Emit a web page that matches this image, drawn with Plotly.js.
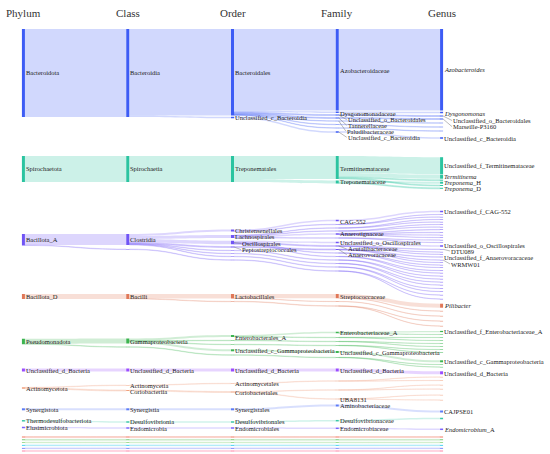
<!DOCTYPE html>
<html><head><meta charset="utf-8">
<script src="https://cdn.plot.ly/plotly-3.0.1.min.js"></script>
<style>body{margin:0;background:#fff}</style>
</head><body><div id="chart" style="width:550px;height:454px"></div>
<script>
// ---- DATA: one entry per genus with its lineage and abundance ----
const levels = ['Phylum','Class','Order','Family','Genus'];
const phylum = [
 'Bacteroidota','Bacteroidota','Bacteroidota','Bacteroidota','Bacteroidota','Bacteroidota','Bacteroidota','Bacteroidota',
 'Spirochaetota','Spirochaetota','Spirochaetota','Spirochaetota','Spirochaetota','Spirochaetota',
 'Bacillota_A','Bacillota_A','Bacillota_A','Bacillota_A','Bacillota_A','Bacillota_A','Bacillota_A','Bacillota_A',
 'Bacillota_A','Bacillota_A','Bacillota_A','Bacillota_A','Bacillota_A','Bacillota_A','Bacillota_A','Bacillota_A',
 'Bacillota_A','Bacillota_A','Bacillota_A','Bacillota_A','Bacillota_A','Bacillota_A','Bacillota_A','Bacillota_A',
 'Bacillota_A','Bacillota_A','Bacillota_A','Bacillota_A','Bacillota_A','Bacillota_A','Bacillota_A','Bacillota_A',
 'Bacillota_D','Bacillota_D','Bacillota_D','Bacillota_D','Bacillota_D',
 'Pseudomonadota','Pseudomonadota','Pseudomonadota','Pseudomonadota','Pseudomonadota','Pseudomonadota',
 'Pseudomonadota','Pseudomonadota','Pseudomonadota','Pseudomonadota','Pseudomonadota',
 'Unclassified_d_Bacteria',
 'Actinomycetota','Actinomycetota','Actinomycetota','Actinomycetota','Actinomycetota','Actinomycetota',
 'Synergistota','Thermodesulfobacteriota','Elusimicrobiota',
 'minor_p1','minor_p2','minor_p3','minor_p4','minor_p5','minor_p6'];
const klass = [
 'Bacteroidia','Bacteroidia','Bacteroidia','Bacteroidia','Bacteroidia','Bacteroidia','Bacteroidia','Bacteroidia',
 'Spirochaetia','Spirochaetia','Spirochaetia','Spirochaetia','Spirochaetia','Spirochaetia',
 'Clostridia','Clostridia','Clostridia','Clostridia','Clostridia','Clostridia','Clostridia','Clostridia',
 'Clostridia','Clostridia','Clostridia','Clostridia','Clostridia','Clostridia','Clostridia','Clostridia',
 'Clostridia','Clostridia','Clostridia','Clostridia','Clostridia','Clostridia','Clostridia','Clostridia',
 'Clostridia','Clostridia','Clostridia','Clostridia','Clostridia','Clostridia','minor_c_a2','minor_c_a2',
 'Bacilli','Bacilli','Bacilli','Bacilli','Bacilli',
 'Gammaproteobacteria','Gammaproteobacteria','Gammaproteobacteria','Gammaproteobacteria','Gammaproteobacteria','Gammaproteobacteria',
 'Gammaproteobacteria','Gammaproteobacteria','Gammaproteobacteria','minor_c_g2','minor_c_g2',
 'Unclassified_d_Bacteria',
 'Actinomycetia','Actinomycetia','Coriobacteriia','Coriobacteriia','Coriobacteriia','Coriobacteriia',
 'Synergistia','Desulfovibrionia','Endomicrobia',
 'minor_c_p1','minor_c_p2','minor_c_p3','minor_c_p4','minor_c_p5','minor_c_p6'];
const order = [
 'Bacteroidales','Bacteroidales','Bacteroidales','Bacteroidales','Bacteroidales','Bacteroidales','Bacteroidales','Unclassified_c_Bacteroidia',
 'Treponematales','Treponematales','Treponematales','Treponematales','Treponematales','Treponematales',
 'Christensenellales','Christensenellales','Christensenellales',
 'Lachnospirales','Lachnospirales','Lachnospirales','Lachnospirales','Lachnospirales','Lachnospirales','Lachnospirales','Lachnospirales','Lachnospirales','Lachnospirales',
 'Oscillospirales','Oscillospirales','Oscillospirales','Oscillospirales','Oscillospirales','Oscillospirales','Oscillospirales','Oscillospirales',
 'Peptostreptococcales','Peptostreptococcales','Peptostreptococcales',
 'minor_o_a1','minor_o_a1','minor_o_a2','minor_o_a2','minor_o_a3','minor_o_a3','minor_o_a4','minor_o_a4',
 'Lactobacillales','Lactobacillales','Lactobacillales','minor_o_d1','minor_o_d1',
 'Enterobacterales_A','Enterobacterales_A','Enterobacterales_A','Enterobacterales_A','minor_o_g1','minor_o_g1',
 'minor_o_g2','minor_o_g2','Unclassified_c_Gammaproteobacteria','minor_o_g3','minor_o_g3',
 'Unclassified_d_Bacteria',
 'Actinomycetales','Actinomycetales','Coriobacteriales','Coriobacteriales','Coriobacteriales','Coriobacteriales',
 'Synergistales','Desulfovibrionales','Endomicrobiales',
 'minor_o_p1','minor_o_p2','minor_o_p3','minor_o_p4','minor_o_p5','minor_o_p6'];
const family = [
 'Azobacteroidaceae','Dysgonomonadaceae','Unclassified_o_Bacteroidales','Tannerellaceae','Paludibacteraceae','minor_f_b1','minor_f_b2','Unclassified_c_Bacteroidia',
 'Termitinemataceae','Termitinemataceae','Termitinemataceae','Termitinemataceae','Treponemataceae','Treponemataceae',
 'CAG-552','minor_f_a1','minor_f_a1',
 'minor_f_a2','minor_f_a2','minor_f_a3','minor_f_a3','Anaerotignaceae','Anaerotignaceae','Anaerotignaceae','Anaerotignaceae','minor_f_a4','minor_f_a4',
 'Unclassified_o_Oscillospirales','Acutalibacteraceae','Acutalibacteraceae','Acutalibacteraceae','minor_f_a5','minor_f_a5','minor_f_a6','minor_f_a6',
 'Anaerovoracaceae','Anaerovoracaceae','Anaerovoracaceae',
 'minor_f_a7','minor_f_a7','minor_f_a8','minor_f_a8','minor_f_a9','minor_f_a9','minor_f_a10','minor_f_a10',
 'Streptococcaceae','Streptococcaceae','minor_f_d1','minor_f_d2','minor_f_d2',
 'Enterobacteriaceae_A','Enterobacteriaceae_A','minor_f_g1','minor_f_g1','minor_f_g2','minor_f_g2',
 'minor_f_g3','minor_f_g3','Unclassified_c_Gammaproteobacteria','minor_f_g4','minor_f_g4',
 'Unclassified_d_Bacteria',
 'minor_f_c1','minor_f_c1','minor_f_c2','minor_f_c2','UBA8131','UBA8131',
 'Aminobacteriaceae','Desulfovibrionaceae','Endomicrobiaceae',
 'minor_f_p1','minor_f_p2','minor_f_p3','minor_f_p4','minor_f_p5','minor_f_p6'];
const genus = [
 'Azobacteroides','Dysgonomonas','Unclassified_o_Bacteroidales','Marseille-P3160','minor_g_b1','minor_g_b2','minor_g_b3','Unclassified_c_Bacteroidia',
 'Unclassified_f_Termitinemataceae','Termitinema','minor_g_s1','minor_g_s2','Treponema_H','Treponema_D',
 'Unclassified_f_CAG-552','minor_g_a1','minor_g_a2',
 'minor_g_a3','minor_g_a4','minor_g_a5','minor_g_a6','minor_g_a7','minor_g_a8','minor_g_a9','minor_g_a10','minor_g_a11','minor_g_a12',
 'Unclassified_o_Oscillospirales','DTU089','minor_g_a13','minor_g_a14','minor_g_a15','minor_g_a16','minor_g_a17','minor_g_a18',
 'Unclassified_f_Anaerovoracaceae','WRMW01','minor_g_a19',
 'minor_g_a20','minor_g_a21','minor_g_a22','minor_g_a23','minor_g_a24','minor_g_a25','minor_g_a26','minor_g_a27',
 'Pilibacter','minor_g_d1','minor_g_d2','minor_g_d3','minor_g_d4',
 'Unclassified_f_Enterobacteriaceae_A','minor_g_g1','minor_g_g2','minor_g_g3','minor_g_g4','minor_g_g5',
 'minor_g_g6','minor_g_g7','Unclassified_c_Gammaproteobacteria','minor_g_g8','minor_g_g9',
 'Unclassified_d_Bacteria',
 'minor_g_c1','minor_g_c2','minor_g_c3','minor_g_c4','minor_g_c5','minor_g_c6',
 'CAJPSE01','minor_g_t1','Endomicrobium_A',
 'minor_g_p1','minor_g_p2','minor_g_p3','minor_g_p4','minor_g_p5','minor_g_p6'];
const abundance = [
 81.5,1.5,1,1,0.5,0.5,0.5,1.5,
 17,4,1,1,2,1,
 1.5,0.25,0.25,
 0.25,0.25,0.25,0.25,0.5,0.5,0.25,0.25,0.25,0.25,
 1.5,0.5,0.25,0.25,0.25,0.25,0.25,0.25,
 0.5,0.25,0.25,
 0.25,0.25,0.25,0.25,0.25,0.25,0.25,0.25,
 4,0.25,0.25,0.25,0.25,
 1.25,0.25,0.25,0.25,0.25,0.25,
 0.25,0.25,2,0.25,0.25,
 3,
 0.25,0.25,0.25,0.25,0.25,0.25,
 2,1.5,1.5,
 0.8,0.8,0.8,0.8,0.8,0.8];
const italicGenera = ['Azobacteroides','Dysgonomonas','Termitinema','Treponema_H','Treponema_D','Pilibacter','Endomicrobium_A'];

// ---- STYLE / LAYOUT ----
const phylumColor = {
 'Bacteroidota':[61,92,245],'Spirochaetota':[43,196,160],'Bacillota_A':[112,84,245],'Bacillota_D':[224,120,88],
 'Pseudomonadota':[60,180,80],'Unclassified_d_Bacteria':[155,77,255],'Actinomycetota':[240,160,125],
 'Synergistota':[91,123,247],'Thermodesulfobacteriota':[60,200,168],'Elusimicrobiota':[123,97,255],
 'minor_p1':[239,85,59],'minor_p2':[90,190,90],'minor_p3':[140,210,120],'minor_p4':[25,200,240],'minor_p5':[99,110,250],'minor_p6':[255,102,146]};
const M = {l:23, r:108, t:29, b:2};
const W = 550 - M.l - M.r, H = 454 - M.t - M.b;
const colFrac = [0.001, 0.25, 0.5, 0.75, 0.999];
const FONT = 'Liberation Serif';
// node vertical centres (px from top of page)
const nodeY = {
 '0|Bacteroidota':73,'1|Bacteroidia':73,'2|Bacteroidales':72.25,'2|Unclassified_c_Bacteroidia':117.5,
 '3|Azobacteroidaceae':69.75,'3|Dysgonomonadaceae':112.25,'3|Unclassified_o_Bacteroidales':115,'3|Tannerellaceae':118,'3|Paludibacteraceae':121,'3|minor_f_b1':124.5,'3|minor_f_b2':128,'3|Unclassified_c_Bacteroidia':132,
 '4|Azobacteroides':69.75,'4|Dysgonomonas':112.5,'4|Unclassified_o_Bacteroidales':116,'4|Marseille-P3160':119,'4|minor_g_b1':123,'4|minor_g_b2':127,'4|minor_g_b3':131,'4|Unclassified_c_Bacteroidia':138,
 '0|Spirochaetota':169,'1|Spirochaetia':169,'2|Treponematales':169,'3|Termitinemataceae':167.5,'3|Treponemataceae':182,
 '4|Unclassified_f_Termitinemataceae':165.7,'4|Termitinema':176.7,'4|minor_g_s1':180.2,'4|Treponema_H':182.7,'4|minor_g_s2':185.5,'4|Treponema_D':188.3,
 '0|Bacillota_A':239.75,'1|Clostridia':239.5,'1|minor_c_a2':249.3,
 '2|Christensenellales':230.5,'2|Lachnospirales':236.5,'2|Oscillospirales':242.5,'2|Peptostreptococcales':247,'2|minor_o_a1':250.5,'2|minor_o_a2':253.5,'2|minor_o_a3':256.5,'2|minor_o_a4':260,
 '3|CAG-552':220.5,'3|minor_f_a1':224.5,'3|minor_f_a2':228,'3|minor_f_a3':231,'3|Anaerotignaceae':234,'3|minor_f_a4':238,'3|Unclassified_o_Oscillospirales':242.5,'3|Acutalibacteraceae':246,'3|Anaerovoracaceae':249.5,'3|minor_f_a5':253,'3|minor_f_a6':256.5,'3|minor_f_a7':260,'3|minor_f_a8':263.5,'3|minor_f_a9':267,'3|minor_f_a10':271,
 '4|Unclassified_f_CAG-552':211.5,'4|minor_g_a1':214.5,'4|minor_g_a2':217,'4|minor_g_a3':219.5,'4|minor_g_a4':222,'4|minor_g_a5':224.5,'4|minor_g_a6':227,'4|minor_g_a7':229.7,'4|minor_g_a8':232.5,'4|minor_g_a9':235,'4|minor_g_a10':237.5,'4|minor_g_a11':240,'4|minor_g_a12':242.5,
 '4|Unclassified_o_Oscillospirales':246,'4|DTU089':249.3,'4|minor_g_a13':252,'4|minor_g_a14':254.3,'4|Unclassified_f_Anaerovoracaceae':257,'4|WRMW01':260,'4|minor_g_a19':262.5,
 '4|minor_g_a15':265,'4|minor_g_a16':267.5,'4|minor_g_a17':270.5,'4|minor_g_a18':273,'4|minor_g_a20':276,'4|minor_g_a21':279,'4|minor_g_a22':282,'4|minor_g_a23':285,'4|minor_g_a24':288.5,'4|minor_g_a25':291.5,'4|minor_g_a26':295,'4|minor_g_a27':299,
 '0|Bacillota_D':296.5,'1|Bacilli':296.5,'2|Lactobacillales':296.25,'2|minor_o_d1':301.5,'3|Streptococcaceae':296.1,'3|minor_f_d1':301.5,'3|minor_f_d2':306,
 '4|Pilibacter':305.7,'4|minor_g_d1':311,'4|minor_g_d2':316,'4|minor_g_d3':321,'4|minor_g_d4':326,
 '0|Pseudomonadota':341.5,'1|Gammaproteobacteria':341,'1|minor_c_g2':347,'2|Enterobacterales_A':336,'2|minor_o_g1':340.5,'2|minor_o_g2':344.5,'2|Unclassified_c_Gammaproteobacteria':350.3,'2|minor_o_g3':355,
 '3|Enterobacteriaceae_A':332.5,'3|minor_f_g1':337.5,'3|minor_f_g2':341.5,'3|minor_f_g3':345.5,'3|Unclassified_c_Gammaproteobacteria':352,'3|minor_f_g4':357.5,
 '4|Unclassified_f_Enterobacteriaceae_A':331.5,'4|minor_g_g1':334.5,'4|minor_g_g2':337.5,'4|minor_g_g3':340.5,'4|minor_g_g4':343.5,'4|minor_g_g5':346.5,'4|minor_g_g6':349.5,'4|minor_g_g7':352.5,'4|Unclassified_c_Gammaproteobacteria':361.3,'4|minor_g_g8':364.5,'4|minor_g_g9':367,
 '0|Unclassified_d_Bacteria':370,'1|Unclassified_d_Bacteria':370,'2|Unclassified_d_Bacteria':370,'3|Unclassified_d_Bacteria':370,'4|Unclassified_d_Bacteria':372.8,
 '0|Actinomycetota':388,'1|Actinomycetia':385.3,'1|Coriobacteriia':390.5,'2|Actinomycetales':383.5,'2|Coriobacteriales':392,'3|minor_f_c1':381,'3|minor_f_c2':390,'3|UBA8131':399,
 '4|minor_g_c1':377,'4|minor_g_c2':380.5,'4|minor_g_c3':385,'4|minor_g_c4':389,'4|minor_g_c5':395,'4|minor_g_c6':400,
 '0|Synergistota':409.3,'1|Synergistia':409.3,'2|Synergistales':409.3,'3|Aminobacteriaceae':405.5,'4|CAJPSE01':411.5,
 '0|Thermodesulfobacteriota':420.8,'1|Desulfovibrionia':422,'2|Desulfovibrionales':422,'3|Desulfovibrionaceae':420.7,'4|minor_g_t1':418.5,
 '0|Elusimicrobiota':427.5,'1|Endomicrobia':428,'2|Endomicrobiales':428,'3|Endomicrobiaceae':428.3,'4|Endomicrobium_A':429.3
};
const bottomY = {minor_p1:437, minor_p2:439.8, minor_p3:442.5, minor_p4:445.3, minor_p5:448.3, minor_p6:451};
// labels: [level, name, label y (px), horizontal offset with leader line]
const labels = [
 [0,'Bacteroidota',72,0],[0,'Spirochaetota',168.5,0],[0,'Bacillota_A',239.3,0],[0,'Bacillota_D',296.7,0],[0,'Pseudomonadota',341.3,0],
 [0,'Unclassified_d_Bacteria',370,0],[0,'Actinomycetota',388,0],[0,'Synergistota',409.3,0],[0,'Thermodesulfobacteriota',420.7,0],[0,'Elusimicrobiota',427.5,0],
 [1,'Bacteroidia',72,0],[1,'Spirochaetia',168.5,0],[1,'Clostridia',239.3,0],[1,'Bacilli',296.7,0],[1,'Gammaproteobacteria',341.3,0],
 [1,'Unclassified_d_Bacteria',370,0],[1,'Actinomycetia',385,0],[1,'Coriobacteriia',391,0],[1,'Synergistia',409.3,0],[1,'Desulfovibrionia',421.8,0],[1,'Endomicrobia',428.2,0],
 [2,'Bacteroidales',72.3,0],[2,'Unclassified_c_Bacteroidia',117.5,0],[2,'Treponematales',168.3,0],[2,'Christensenellales',230.7,0],[2,'Lachnospirales',236.7,0],
 [2,'Oscillospirales',243.3,7],[2,'Peptostreptococcales',249.6,7],[2,'Lactobacillales',296.7,0],[2,'Enterobacterales_A',337.3,0],[2,'Unclassified_c_Gammaproteobacteria',350.3,0],
 [2,'Unclassified_d_Bacteria',370,0],[2,'Actinomycetales',383.3,0],[2,'Coriobacteriales',392,0],[2,'Synergistales',409.3,0],[2,'Desulfovibrionales',421.8,0],[2,'Endomicrobiales',428.2,0],
 [3,'Azobacteroidaceae',70.7,0],[3,'Dysgonomonadaceae',113.7,0],[3,'Unclassified_o_Bacteroidales',119.7,8],[3,'Tannerellaceae',125.3,8],[3,'Paludibacteraceae',131,7],[3,'Unclassified_c_Bacteroidia',137.3,8],
 [3,'Termitinemataceae',168.3,0],[3,'Treponemataceae',181.7,0],[3,'CAG-552',221.7,0],[3,'Anaerotignaceae',234,0],[3,'Unclassified_o_Oscillospirales',242.7,0],
 [3,'Acutalibacteraceae',249,8],[3,'Anaerovoracaceae',254.7,8],[3,'Streptococcaceae',296.3,0],[3,'Enterobacteriaceae_A',332.7,0],[3,'Unclassified_c_Gammaproteobacteria',352,0],
 [3,'Unclassified_d_Bacteria',370,0],[3,'UBA8131',399,0],[3,'Aminobacteriaceae',405,0],[3,'Desulfovibrionaceae',420.7,0],[3,'Endomicrobiaceae',428.3,0],
 [4,'Azobacteroides',69,0],[4,'Dysgonomonas',114,0],[4,'Unclassified_o_Bacteroidales',120.5,9],[4,'Marseille-P3160',126.7,9],[4,'Unclassified_c_Bacteroidia',138,0],
 [4,'Unclassified_f_Termitinemataceae',165.7,0],[4,'Termitinema',176.7,0],[4,'Treponema_H',182.7,0],[4,'Treponema_D',188.3,0],
 [4,'Unclassified_f_CAG-552',211.7,0],[4,'Unclassified_o_Oscillospirales',246,0],[4,'DTU089',251,7],[4,'Unclassified_f_Anaerovoracaceae',257.3,0],[4,'WRMW01',264,7],
 [4,'Pilibacter',305.7,0],[4,'Unclassified_f_Enterobacteriaceae_A',331.7,0],[4,'Unclassified_c_Gammaproteobacteria',361.3,0],[4,'Unclassified_d_Bacteria',373.3,0],
 [4,'CAJPSE01',411.7,0],[4,'Endomicrobium_A',429.3,0]
];

// ---- BUILD SANKEY ----
const rows = phylum.map((p,i)=>[p, klass[i], order[i], family[i], genus[i]]);
const idx = {}, nodes = [];
rows.forEach(r => r.forEach((name,lvl) => {
  const k = lvl+'|'+name;
  if(!(k in idx)){ idx[k] = nodes.length; nodes.push({lvl:lvl, name:name, ph:r[0], key:k}); }
}));
const linkAgg = {};
rows.forEach((r,i) => {
  for(let l=0;l<4;l++){
    const s = idx[l+'|'+r[l]], t = idx[(l+1)+'|'+r[l+1]], k = s+'>'+t;
    if(!linkAgg[k]) linkAgg[k] = {s:s, t:t, v:0, ph:r[0]};
    linkAgg[k].v += abundance[i];
  }
});
const linkList = Object.values(linkAgg);
const rgb = (c,a) => 'rgba('+c[0]+','+c[1]+','+c[2]+','+a+')';
const yOf = n => (n.key in nodeY) ? nodeY[n.key] : bottomY[n.ph];
const total = abundance.reduce((a,b)=>a+b,0);
const counts = [0,0,0,0,0]; nodes.forEach(n=>counts[n.lvl]++);
const nmax = Math.max(...counts);
const pad = (H - total) / (nmax - 1);   // one unit of abundance = 1 px
const disp = n => n.name.startsWith('minor_') ? 'minor '+levels[n.lvl].toLowerCase() : n.name;

const trace = {
  type:'sankey', arrangement:'fixed', orientation:'h',
  domain:{x:[0,1], y:[0,1]},
  node:{
    label: nodes.map(()=>''),
    customdata: nodes.map(disp),
    x: nodes.map(n=>colFrac[n.lvl]),
    y: nodes.map(n=>(yOf(n)-M.t)/H),
    color: nodes.map(n=>rgb(phylumColor[n.ph],1)),
    thickness:3, pad:pad,
    line:{width:0},
    hovertemplate:'%{customdata}<br>%{value}<extra></extra>'
  },
  link:{
    source: linkList.map(l=>l.s), target: linkList.map(l=>l.t), value: linkList.map(l=>l.v),
    color: linkList.map(l=>rgb(phylumColor[l.ph], l.v<1 ? 0.19 : 0.24)),
    line:{width:0},
    hovertemplate:'%{source.customdata} → %{target.customdata}<br>%{value}<extra></extra>'
  }
};

const ann = [];
levels.forEach((t,i)=>ann.push({text:t, xref:'paper', yref:'paper', x:colFrac[i], y:1+(M.t-13)/H,
  xanchor:'center', yanchor:'middle', showarrow:false, font:{family:FONT, size:11, color:'#333'}}));
function fmt(lvl,name){
  if(lvl===4 && italicGenera.includes(name)){
    const p = name.split('_');
    return '<i>'+p[0]+'</i>'+(p.length>1?'_'+p.slice(1).join('_'):'');
  }
  return name;
}
labels.forEach(([lvl,name,ly,dx])=>{
  const ny = nodeY[lvl+'|'+name];
  const base = {xref:'paper', yref:'paper', x:colFrac[lvl], xanchor:'left', yanchor:'middle', text:fmt(lvl,name),
    font:{family:FONT, size:6.5, color:'#222'}, borderpad:0};
  if(dx>0){
    ann.push(Object.assign(base,{y:1-(ny-M.t)/H, xshift:1.5, showarrow:true, arrowhead:0, arrowwidth:0.5, arrowcolor:'#777',
      ax:dx, ay:ly-ny, standoff:0, startstandoff:0}));
  } else {
    ann.push(Object.assign(base,{y:1-(ly-M.t)/H, xshift:1.5, showarrow:false}));
  }
});

Plotly.newPlot('chart',[trace],{
  width:550, height:454, margin:M, paper_bgcolor:'#fff', plot_bgcolor:'#fff',
  font:{family:FONT, size:7, color:'#222'},
  annotations:ann, showlegend:false
},{displayModeBar:false});
</script>
</body></html>
